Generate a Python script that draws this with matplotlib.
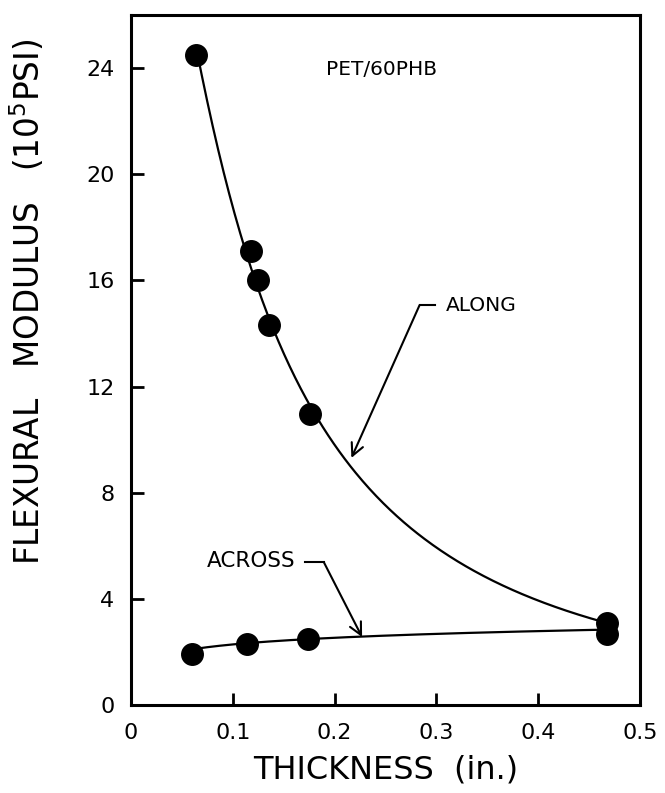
import numpy as np
import matplotlib
matplotlib.use("Agg")
import matplotlib.pyplot as plt

# ---- data ----
along_x = [0.064, 0.1175, 0.125, 0.1356, 0.1757, 0.468]
along_y = [24.5, 17.1, 16.0, 14.3, 10.95, 3.1]
across_x = [0.060, 0.1136, 0.174, 0.468]
across_y = [1.92, 2.28, 2.47, 2.68]

x_ticks = [0, 0.1, 0.2, 0.3, 0.4, 0.5]
x_tick_labels = ["0", "0.1", "0.2", "0.3", "0.4", "0.5"]
y_ticks = [0, 4, 8, 12, 16, 20, 24]
y_tick_labels = ["0", "4", "8", "12", "16", "20", "24"]

plt.rcParams['font.family'] = ['DejaVu Sans']

fig = plt.figure(figsize=(6.65, 7.93), dpi=100)
ax = fig.add_axes([131/665, 1 - 705/793, (640-131)/665, (705-15)/793])

ax.set_xlim(0, 0.5)
ax.set_ylim(0, 26)

# smooth fitted curves
ax_ = np.array(along_x); ay_ = np.array(along_y)
pa = np.polyfit(np.log(ax_), np.log(ay_), 2)
xs = np.linspace(ax_.min(), ax_.max(), 300)
ax.plot(xs, np.exp(np.polyval(pa, np.log(xs))), color='black', lw=1.6, zorder=2)

cx_ = np.array(across_x); cy_ = np.array(across_y)
pc = np.polyfit(np.log(cx_), cy_, 1)
xs2 = np.linspace(cx_.min() + 0.004, cx_.max(), 300)
ax.plot(xs2, np.polyval(pc, np.log(xs2)) + 0.1, color='black', lw=1.6, zorder=2)

ms = 15.5
ax.plot(along_x, along_y, 'o', color='black', ms=ms, zorder=3)
ax.plot(across_x, across_y, 'o', color='black', ms=ms, zorder=3)

# annotations
ax.text(0.192, 23.95, "PET/60PHB", fontsize=14.5, ha='left', va='center')

ax.text(0.3097, 15.07, "ALONG", fontsize=14.5, ha='left', va='center')
ax.plot([0.299, 0.2835], [15.07, 15.07], color='black', lw=1.5)
ax.annotate("", xy=(0.2165, 9.31), xytext=(0.2835, 15.07),
            arrowprops=dict(arrowstyle='->', color='black', lw=1.5,
                            mutation_scale=22, shrinkA=0, shrinkB=0))

ax.text(0.162, 5.43, "ACROSS", fontsize=15.5, ha='right', va='center')
ax.plot([0.1709, 0.1893], [5.39, 5.39], color='black', lw=1.5)
ax.annotate("", xy=(0.227, 2.56), xytext=(0.1893, 5.39),
            arrowprops=dict(arrowstyle='->', color='black', lw=1.5,
                            mutation_scale=22, shrinkA=0, shrinkB=0))

# axes styling
for side in ['left', 'right', 'top', 'bottom']:
    ax.spines[side].set_linewidth(2.2)
ax.set_xticks(x_ticks)
ax.set_xticklabels(x_tick_labels, fontsize=16)
ax.set_yticks(y_ticks)
ax.set_yticklabels(y_tick_labels, fontsize=16)
ax.tick_params(axis='both', direction='in', length=9, width=2)
ax.tick_params(axis='x', pad=13)
ax.tick_params(axis='y', pad=12)

ax.set_xlabel("THICKNESS  (in.)", fontsize=23, labelpad=8)
ax.set_ylabel(r"FLEXURAL   MODULUS   (10$^{5}$PSI)", fontsize=23.5)
ax.yaxis.set_label_coords(-0.165, 0.584)

fig.savefig("out.png", dpi=100, facecolor='white')
